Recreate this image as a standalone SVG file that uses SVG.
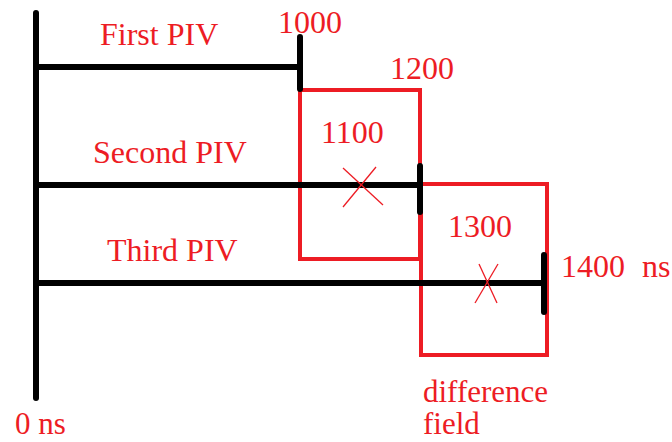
<svg xmlns="http://www.w3.org/2000/svg" width="672" height="442" viewBox="0 0 672 442">
<style>
.axis{stroke:#000;stroke-width:6;fill:none;stroke-linecap:round}
.bar{stroke:#000;stroke-width:6;fill:none;stroke-linecap:butt}
.tick{stroke:#000;stroke-width:6;fill:none;stroke-linecap:round}
.box{stroke:#ED1C24;stroke-width:4;fill:none}
.cross{stroke:#ED1C24;stroke-width:1.3;fill:none}
.lbl{font-family:'Liberation Serif','Times New Roman',serif;font-size:32px;fill:#ED1C24}
.low{font-size:31px}
</style>
<rect width="672" height="442" fill="#fff"/>
<g id="boxes">
  <g id="field1">
    <rect class="box" x="300" y="90" width="120" height="169"/>
    <text class="lbl" x="321" y="143">1100</text>
  </g>
  <g id="field2">
    <rect class="box" x="421" y="184" width="126" height="171"/>
    <text class="lbl" x="448" y="237">1300</text>
  </g>
</g>
<g id="connectors">
  <line class="axis" x1="36" y1="13" x2="36" y2="398"/>
  <line class="bar" x1="36" y1="67" x2="300" y2="67"/>
  <line class="tick" x1="300" y1="37" x2="300" y2="89"/>
  <line class="bar" x1="36" y1="185" x2="420" y2="185"/>
  <line class="tick" x1="420" y1="166" x2="420" y2="212"/>
  <line class="bar" x1="36" y1="283" x2="544" y2="283"/>
  <line class="tick" x1="544" y1="255" x2="544" y2="312"/>
</g>
<g id="marks">
  <line class="cross" x1="343" y1="168" x2="383" y2="205"/>
  <line class="cross" x1="376" y1="167" x2="343" y2="207"/>
  <line class="cross" x1="479" y1="264" x2="497" y2="303"/>
  <line class="cross" x1="498" y1="264" x2="475" y2="303"/>
</g>
<g id="labels">
  <text id="first" class="lbl" x="100" y="45">First PIV</text>
  <text id="second" class="lbl" x="93" y="163">Second PIV</text>
  <text id="third" class="lbl" x="107" y="261">Third PIV</text>
  <text class="lbl" x="278" y="33">1000</text>
  <text class="lbl" x="390" y="79">1200</text>
  <text class="lbl" x="561" y="277" word-spacing="9">1400 ns</text>
  <text class="lbl low" x="15" y="434">0 ns</text>
  <text class="lbl low" x="423" y="402">difference</text>
  <text class="lbl low" x="423" y="434">field</text>
</g>
</svg>
